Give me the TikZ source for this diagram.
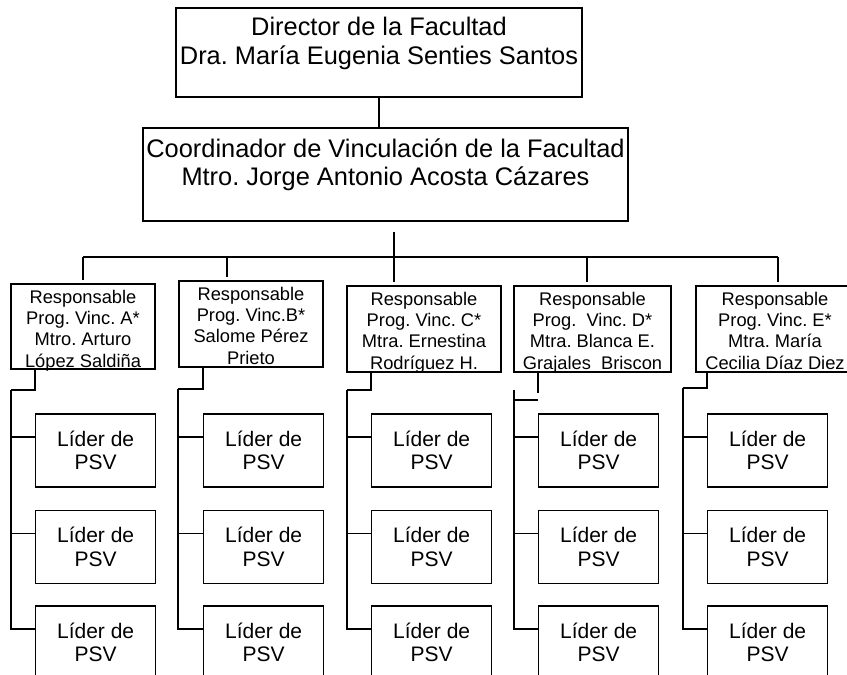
\documentclass[tikz,border=0pt]{standalone}
\usepackage{fontspec}
\setmainfont{Liberation Sans}
\newcommand{\orgtext}[4]{\begin{minipage}[c][#1][t]{#2}\centering\vspace*{#3}#4\end{minipage}}

\begin{document}
\frenchspacing
\begin{tikzpicture}[x=1pt,y=-1pt,line width=1.3pt]
  % box styles for the three levels
  \tikzstyle{headbox}=[rectangle,draw,inner sep=0pt,font=\fontsize{25.4}{28.5}\selectfont]
  \tikzstyle{progbox}=[rectangle,draw,inner sep=0pt,font=\fontsize{18.3}{21.3}\selectfont]
  \tikzstyle{leadbox}=[rectangle,draw,inner sep=0pt,minimum width=120pt,minimum height=73pt,align=center,font=\fontsize{21}{23.5}\selectfont]

  \path[use as bounding box,fill=white] (0,0) rectangle (847,675);

  \node[headbox] (dir)   at (379,52.5)  {\orgtext{89pt}{406pt}{9.5pt}{Director de la Facultad\\Dra. María Eugenia Senties Santos}};
  \node[headbox] (coord) at (385.5,174.5) {\orgtext{93pt}{485pt}{10.5pt}{Coordinador de Vinculación de la Facultad\\Mtro. Jorge Antonio Acosta Cázares}};

  \node[progbox] (rA) at (83,326.5)  {\orgtext{85pt}{144pt}{6pt}{Responsable\\Prog. Vinc. A*\\Mtro. Arturo\\López Saldiña}};
  \node[progbox] (rB) at (251,324)   {\orgtext{86pt}{144pt}{6pt}{Responsable\\Prog. Vinc.B*\\Salome Pérez\\Prieto}};
  \node[progbox] (rC) at (424,329)   {\orgtext{86pt}{154pt}{6pt}{Responsable\\Prog. Vinc. C*\\Mtra. Ernestina\\Rodríguez H.}};
  \node[progbox] (rD) at (592.5,329) {\orgtext{86pt}{157pt}{6pt}{Responsable\\Prog.\ \ Vinc. D*\\Mtra. Blanca E.\\Grajales\ \ Briscon}};
  \node[progbox] (rE) at (775,329)   {\orgtext{86pt}{158pt}{6pt}{Responsable\\Prog. Vinc. E*\\Mtra. María\\Cecilia Díaz Diez}};

  % three leaders under every programme
  \foreach \c/\x in {A/35,B/203,C/371,D/538,E/707}
    \foreach \r/\y in {1/450.5,2/547,3/642.5}
      \node[leadbox,anchor=west] (l\c\r) at (\x,\y) {Líder de\\PSV};

  \coordinate (bA) at (83,257);
  \coordinate (bB) at (227,257);
  \coordinate (bC) at (394,257);
  \coordinate (bD) at (587,257);
  \coordinate (bE) at (778,257);

  \draw (dir.south) -- (dir.south |- coord.north);
  \draw[shorten <=10pt] (coord.south -| bC) -- (bC);
  \draw (bA) -- (bE);
  \foreach \c in {A,B,C,D,E}
    \draw[shorten >=3pt] (b\c) -- (b\c |- r\c.north);

  \coordinate (tA) at (11,390);
  \coordinate (tB) at (178,389);
  \coordinate (tC) at (347,390);
  \coordinate (tE) at (683,388);
  \foreach \c in {A,B,C,E} {
    \draw (r\c.south -| l\c1.west) |- (t\c);
    \foreach \r in {1,2,3}
      \draw ([yshift=13.5pt]l\c\r.west) -| (t\c);
  }

  % column D is not joined to its trunk
  \coordinate (eD) at (538,393);
  \coordinate (tD) at (514,390);
  \coordinate (hD) at (538,400);
  \draw (rD.south -| eD) -- (eD);
  \draw (hD) -| (tD);
  \foreach \r in {1,2,3}
    \draw ([yshift=13.5pt]lD\r.west) -| (tD);
\end{tikzpicture}
\end{document}
